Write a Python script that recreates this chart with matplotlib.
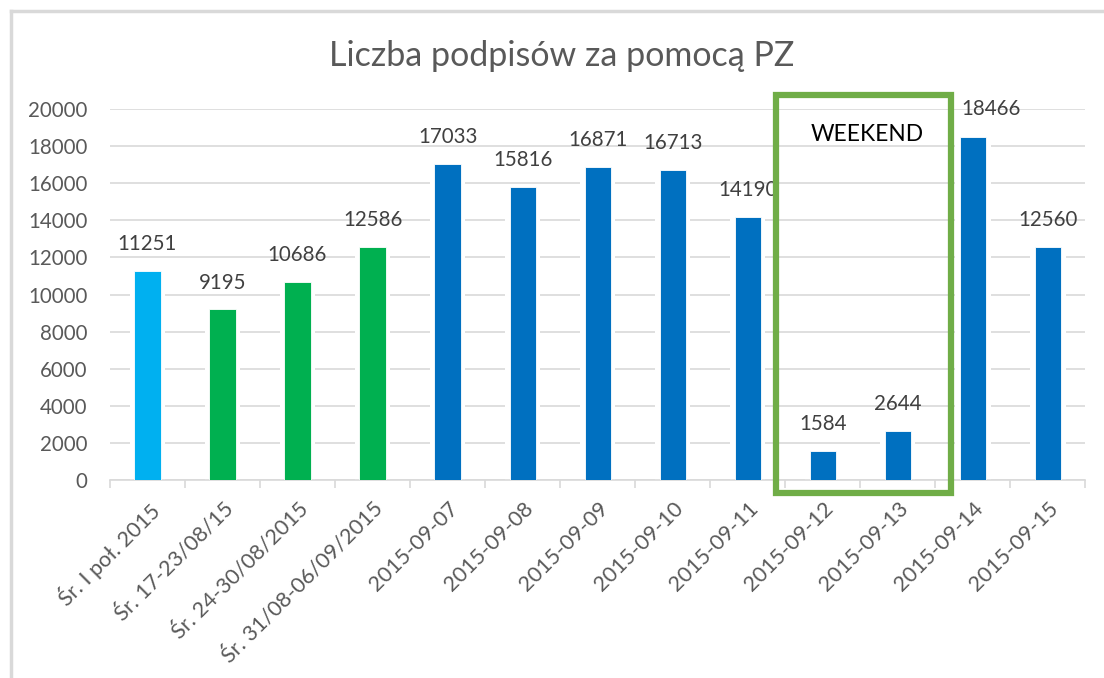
#!/usr/bin/env python3
"""Liczba podpisów za pomocą PZ - bar chart with weekend highlight."""

import matplotlib
matplotlib.use("Agg")
import matplotlib.pyplot as plt
from matplotlib.patches import Rectangle
from matplotlib.lines import Line2D
import numpy as np

categories = [
    "Śr. I poł. 2015", "Śr. 17-23/08/15", "Śr. 24-30/08/2015", "Śr. 31/08-06/09/2015",
    "2015-09-07", "2015-09-08", "2015-09-09", "2015-09-10", "2015-09-11",
    "2015-09-12", "2015-09-13", "2015-09-14", "2015-09-15",
]
values = [11251, 9195, 10686, 12586, 17033, 15816, 16871, 16713, 14190, 1584, 2644, 18466, 12560]
groups = ["avg_h1", "avg_week", "avg_week", "avg_week",
          "day", "day", "day", "day", "day", "day", "day", "day", "day"]
yticks = [0, 2000, 4000, 6000, 8000, 10000, 12000, 14000, 16000, 18000, 20000]

plt.rcParams.update({"font.family": ["Lato", "DejaVu Sans"]})
text_gray = "#595959"
label_gray = "#404040"
grid_gray = "#D9D9D9"
group_color = {"avg_h1": "#00B0F0", "avg_week": "#00B050", "day": "#0070C0"}

fig = plt.figure(figsize=(11.04, 6.78), dpi=100)
ax = fig.add_axes([0.0996, 0.292, 0.8836, 0.5472])

x = np.arange(len(values))
colors = [group_color[g] for g in groups]
width = 0.35
# white halo so the grid lines stop short of the bars, as in the original
ax.bar(x, values, width=width + 0.12, color="white", zorder=2)
ax.bar(x, values, width=width, color=colors, edgecolor="white", linewidth=0.6, zorder=3)

for xi, v in zip(x, values):
    # Excel nudged the label next to the weekend box to the right
    off = (13, 16.5) if xi == 11 else (0, 15)
    ax.annotate(f"{v}", (xi, v), xytext=off, textcoords="offset points",
                ha="center", va="baseline", fontsize=14.8, color=label_gray, zorder=4)

ax.set_xlim(-0.5, len(values) - 0.5)
ax.set_ylim(0, 20000)
ax.set_yticks(yticks)
ax.set_yticklabels([str(t) for t in yticks])
ax.yaxis.grid(True, color=grid_gray, lw=1.2, zorder=0)
ax.set_axisbelow(True)
ax.tick_params(axis="y", length=0, labelsize=14.8, labelcolor=text_gray, pad=16)

ax.set_xticks(x)
ax.set_xticklabels(categories, rotation=45, ha="right", rotation_mode="anchor",
                   fontsize=15.6, color=text_gray)
ax.set_xticks(np.arange(-0.5, len(values)), minor=True)
ax.tick_params(axis="x", which="major", length=0, pad=13)
ax.tick_params(axis="x", which="minor", length=6, color=grid_gray, width=1.2)

for s in ["top", "right", "left"]:
    ax.spines[s].set_visible(False)
ax.spines["bottom"].set_color(grid_gray)
ax.spines["bottom"].set_linewidth(1.2)

# weekend highlight
ax.add_patch(Rectangle((8.38, -700), 10.71 - 8.38, 20755 + 700, fill=False,
                       edgecolor="#70AD47", linewidth=4.5, clip_on=False, zorder=5))
ax.text(9.59, 18600, "WEEKEND", ha="center", va="center", fontsize=16.4, color="black")

fig.text(0.509, 0.918, "Liczba podpisów za pomocą PZ", ha="center", va="center",
         fontsize=24.5, color=text_gray)

# chart-area frame (only left and top visible in the crop)
fig.add_artist(Line2D([0.0099, 0.0099], [0, 0.9838], transform=fig.transFigure,
                      color=grid_gray, lw=2.5))
fig.add_artist(Line2D([0.0099, 1.0], [0.9838, 0.9838], transform=fig.transFigure,
                      color=grid_gray, lw=2.5))

fig.savefig("out.png", dpi=100, facecolor="white")
